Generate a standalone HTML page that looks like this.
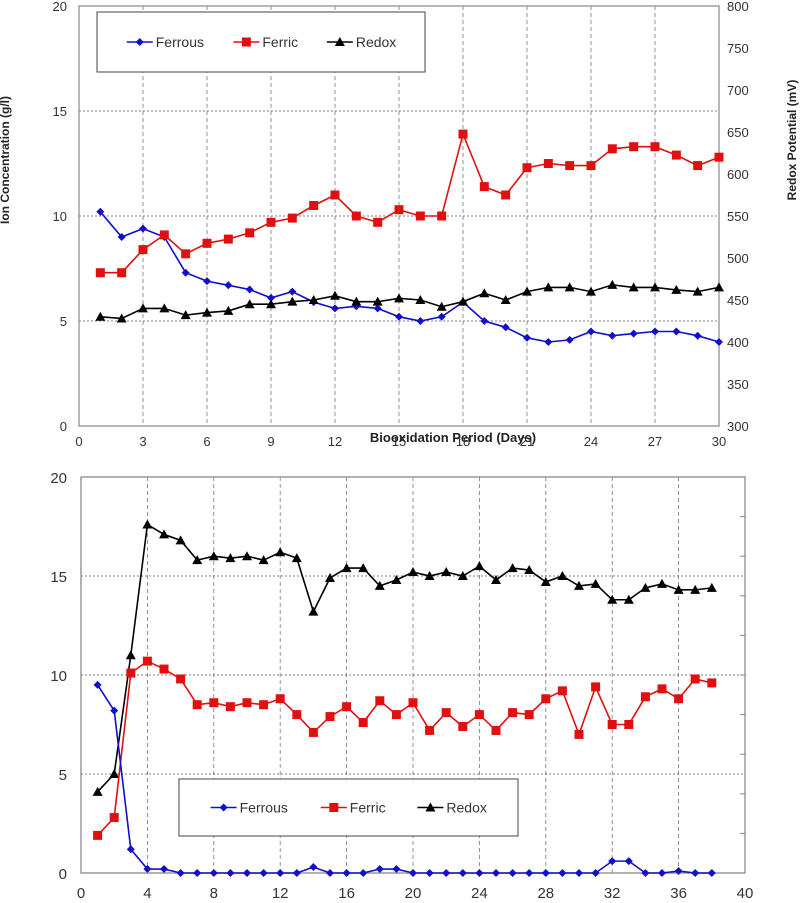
<!DOCTYPE html>
<html><head><meta charset="utf-8"><style>
html,body{margin:0;padding:0;background:#fff;}
svg{display:block;font-family:"Liberation Sans",sans-serif;}
</style></head><body>
<svg id="c" width="801" height="903" viewBox="0 0 801 903"></svg>
<script>
const days1 = Array.from({length:30},(_,i)=>i+1);
const ferrous1 = [10.2,9.0,9.4,9.0,7.3,6.9,6.7,6.5,6.1,6.4,5.9,5.6,5.7,5.6,5.2,5.0,5.2,5.9,5.0,4.7,4.2,4.0,4.1,4.5,4.3,4.4,4.5,4.5,4.3,4.0];
const ferric1 = [7.3,7.3,8.4,9.1,8.2,8.7,8.9,9.2,9.7,9.9,10.5,11.0,10.0,9.7,10.3,10.0,10.0,13.9,11.4,11.0,12.3,12.5,12.4,12.4,13.2,13.3,13.3,12.9,12.4,12.8];
const redox1 = [430,428,440,440,432,435,437,445,445,448,450,455,448,448,452,450,442,448,458,450,460,465,465,460,468,465,465,462,460,465];
const xTicks1 = [0,3,6,9,12,15,18,21,24,27,30];
const yTicks = [0,5,10,15,20];
const yRightTicks1 = [300,350,400,450,500,550,600,650,700,750,800];

const days2 = Array.from({length:38},(_,i)=>i+1);
const ferrous2 = [9.5,8.2,1.2,0.2,0.2,0,0,0,0,0,0,0,0,0.3,0,0,0,0.2,0.2,0,0,0,0,0,0,0,0,0,0,0,0,0.6,0.6,0,0,0.1,0,0];
const ferric2 = [1.9,2.8,10.1,10.7,10.3,9.8,8.5,8.6,8.4,8.6,8.5,8.8,8.0,7.1,7.9,8.4,7.6,8.7,8.0,8.6,7.2,8.1,7.4,8.0,7.2,8.1,8.0,8.8,9.2,7.0,9.4,7.5,7.5,8.9,9.3,8.8,9.8,9.6];
const redox2 = [4.1,5.0,11.0,17.6,17.1,16.8,15.8,16.0,15.9,16.0,15.8,16.2,15.9,13.2,14.9,15.4,15.4,14.5,14.8,15.2,15.0,15.2,15.0,15.5,14.8,15.4,15.3,14.7,15.0,14.5,14.6,13.8,13.8,14.4,14.6,14.3,14.3,14.4];
const xTicks2 = [0,4,8,12,16,20,24,28,32,36,40];

const NS="http://www.w3.org/2000/svg";
const svg=document.getElementById('c');
function mk(tag,attrs,parent){const e=document.createElementNS(NS,tag);for(const k in attrs)e.setAttribute(k,attrs[k]);(parent||svg).appendChild(e);return e;}
function txt(s,x,y,attrs,parent){const e=mk('text',Object.assign({x:x,y:y},attrs),parent);e.textContent=s;return e;}

function marker(g,type,x,y,color){
  if(type==='d') return mk('polygon',{points:`${x},${y-4} ${x+4},${y} ${x},${y+4} ${x-4},${y}`,fill:color},g);
  if(type==='s') return mk('rect',{x:x-4.5,y:y-4.5,width:9,height:9,fill:color},g);
  return mk('polygon',{points:`${x},${y-5} ${x+5},${y+4} ${x-5},${y+4}`,fill:color},g);
}
function series(g,xs,ys,sx,sy,color,type,name){
  const sg=mk('g',{},g);
  
  
  mk('polyline',{points:xs.map((d,i)=>sx(d)+','+sy(ys[i])).join(' '),fill:'none',stroke:color,'stroke-width':1.6},sg);
  xs.forEach((d,i)=>{const m=marker(sg,type,sx(d),sy(ys[i]),color);
    
    });
}
function legend(g,x,y,w,h){
  const lg=mk('g',{},g);
  
  
  mk('rect',{x:x,y:y,width:w,height:h,fill:'#fff',stroke:'#444','stroke-width':1},lg);
  const items=[['Ferrous','#1010c8','d'],['Ferric','#e01010','s'],['Redox','#000','t']];
  const cy=y+h/2;
  const offs=[ (w*0.17), (w*0.495), (w*0.78) ];
  items.forEach((it,i)=>{
    const e=mk('g',{},lg);
    
    
    const cx=x+offs[i];
    mk('line',{x1:cx-26,y1:cy,x2:cx,y2:cy,stroke:it[1],'stroke-width':1.6},e);
    marker(e,it[2],cx-13,cy,it[1]);
    txt(it[0],cx+3,cy+5,{'font-size':14,fill:'#333'},e);
  });
}

// ---------- Top chart ----------
(function(){
  const L=79,R=719,T=6,B=426;
  const sx=d=>L+(d/30)*(R-L);
  const sy=v=>B-(v/20)*(B-T);
  const sr=v=>B-((v-300)/500)*(B-T);
  const g=mk('g',{});
  
  
  xTicks1.slice(1,-1).forEach(t=>mk('line',{x1:sx(t),y1:T,x2:sx(t),y2:B,stroke:'#777','stroke-width':0.8,'stroke-dasharray':'4,3'},g));
  yTicks.slice(1,-1).forEach(t=>mk('line',{x1:L,y1:sy(t),x2:R,y2:sy(t),stroke:'#555','stroke-width':0.8,'stroke-dasharray':'2,2'},g));
  mk('rect',{x:L,y:T,width:R-L,height:B-T,fill:'none',stroke:'#888','stroke-width':1.2},g);
  yTicks.forEach(t=>txt(String(t),L-12,sy(t)+5,{'font-size':13,'text-anchor':'end',fill:'#333'},g));
  yRightTicks1.forEach(t=>txt(String(t),R+8,sr(t)+5,{'font-size':13,fill:'#333'},g));
  xTicks1.forEach(t=>txt(String(t),sx(t),446,{'font-size':13,'text-anchor':'middle',fill:'#333'},g));
  legend(g,97,12,328,60);
  series(g,days1,ferrous1,sx,sy,'#1010c8','d','ferrous-series-top');
  series(g,days1,ferric1,sx,sy,'#e01010','s','ferric-series-top');
  series(g,days1,redox1,sx,sr,'#000','t','redox-series-top');
  txt('Biooxidation Period (Days)',453,442,{'font-size':13,'font-weight':'bold','text-anchor':'middle',fill:'#222'},g);
  const yt=txt('Ion Concentration (g/l)',0,0,{'font-size':12,'font-weight':'bold','text-anchor':'middle',fill:'#222',transform:'translate(9,160) rotate(-90)'},g);
  
  const rt=txt('Redox Potential (mV)',0,0,{'font-size':12,'font-weight':'bold','text-anchor':'middle',fill:'#222',transform:'translate(796,140) rotate(-90)'},g);
  
})();

// ---------- Bottom chart ----------
(function(){
  const L=81,R=745,T=477,B=873;
  const sx=d=>L+(d/40)*(R-L);
  const sy=v=>B-(v/20)*(B-T);
  const g=mk('g',{});
  
  
  xTicks2.slice(1,-1).forEach(t=>mk('line',{x1:sx(t),y1:T,x2:sx(t),y2:B,stroke:'#777','stroke-width':0.8,'stroke-dasharray':'4,3'},g));
  yTicks.slice(1,-1).forEach(t=>mk('line',{x1:L,y1:sy(t),x2:R,y2:sy(t),stroke:'#555','stroke-width':0.8,'stroke-dasharray':'2,2'},g));
  mk('rect',{x:L,y:T,width:R-L,height:B-T,fill:'none',stroke:'#999','stroke-width':1.5},g);
  for(let v=2;v<20;v+=2) mk('line',{x1:R-5,y1:sy(v),x2:R,y2:sy(v),stroke:'#888','stroke-width':1},g);
  yTicks.forEach(t=>txt(String(t),L-14,sy(t)+6,{'font-size':15,'text-anchor':'end',fill:'#333'},g));
  xTicks2.forEach(t=>txt(String(t),sx(t),898,{'font-size':15,'text-anchor':'middle',fill:'#333'},g));
  series(g,days2,redox2,sx,sy,'#000','t','redox-series-bottom');
  series(g,days2,ferric2,sx,sy,'#e01010','s','ferric-series-bottom');
  series(g,days2,ferrous2,sx,sy,'#1010c8','d','ferrous-series-bottom');
  legend(g,179,779,339,57);
})();
</script>
</body></html>
